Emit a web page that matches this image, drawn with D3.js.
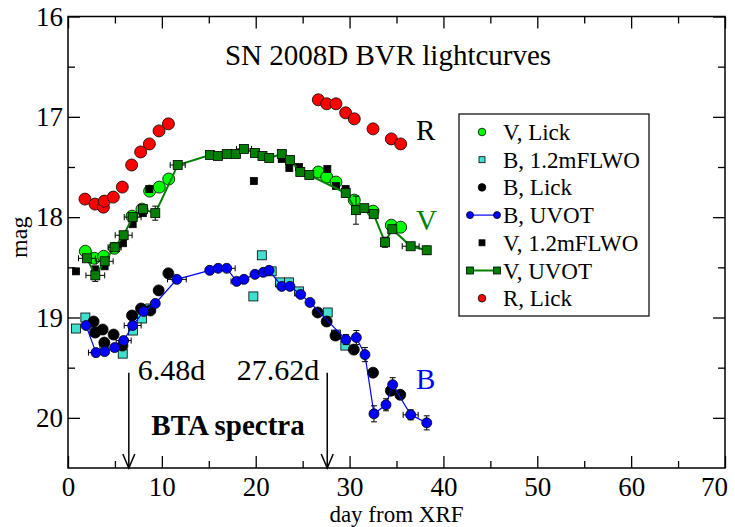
<!DOCTYPE html>
<html>
<head>
<meta charset="utf-8">
<script src="https://cdn.jsdelivr.net/npm/d3@7"></script>
<style>
  body { margin: 0; background: #fff; }
  svg { font-family: "Liberation Serif", "Times New Roman", serif; }
</style>
</head>
<body>
<script>
// values: day from XRF / magnitude
var vLickDay = [1.85, 2.81, 3.80, 4.94, 6.82, 7.88, 8.70, 9.73, 10.73, 26.67, 27.56, 28.55, 30.50, 32.50, 34.45, 35.44];
var vLickMag = [18.34, 18.41, 18.39, 18.31, 17.99, 17.92, 17.74, 17.70, 17.62, 17.55, 17.60, 17.65, 17.83, 17.94, 18.08, 18.10];

var bFlwoDay = [0.85, 1.85, 2.81, 3.87, 5.83, 6.93, 7.88, 8.77, 19.75, 20.65, 21.70, 22.59, 23.55, 24.61, 27.67, 28.55, 29.55];
var bFlwoMag = [19.11, 19.00, 19.14, 19.28, 19.36, 19.13, 19.01, 18.91, 18.79, 18.38, 18.54, 18.65, 18.65, 18.74, 18.95, 19.17, 19.28];

var bLickDay = [2.73, 2.90, 3.69, 3.87, 4.86, 5.80, 6.82, 7.78, 8.77, 9.66, 10.69, 26.60, 27.56, 28.50, 30.45, 32.50, 34.40, 35.40];
var bLickMag = [19.04, 19.15, 19.12, 19.25, 19.17, 19.28, 18.98, 18.91, 18.93, 18.73, 18.56, 18.95, 19.04, 19.18, 19.32, 19.55, 19.73, 19.77];

var bUvotDay = [1.92, 2.98, 3.91, 4.97, 5.93, 6.89, 8.06, 9.30, 11.60, 15.10, 16.00, 16.91, 17.97, 18.75, 19.92, 20.81, 21.42, 22.77, 23.65, 24.79, 25.78, 29.60, 30.72, 31.64, 32.60, 33.88, 34.59, 36.51, 38.22];
var bUvotMag = [19.08, 19.35, 19.34, 19.30, 19.23, 19.08, 18.94, 18.86, 18.62, 18.53, 18.51, 18.51, 18.64, 18.62, 18.57, 18.55, 18.53, 18.69, 18.69, 18.77, 18.85, 19.22, 19.20, 19.37, 19.96, 19.87, 19.67, 19.97, 20.05];
var bUvotDayErr = [0, 0.8, 0, 0, 0.8, 0.9, 0, 0, 1.0, 0, 0, 0.9, 0.6, 0, 0, 0, 0, 0, 0, 0, 0, 0, 0, 0, 0, 0, 0, 0.8, 0];
var bUvotMagErr = [0.02, 0.04, 0.03, 0.03, 0.04, 0.04, 0.03, 0.03, 0.03, 0.02, 0.02, 0.02, 0.03, 0.03, 0.02, 0.02, 0.02, 0.02, 0.02, 0.02, 0.03, 0.05, 0.07, 0.07, 0.08, 0.06, 0.07, 0.05, 0.07];

var vFlwoDay = [0.85, 2.90, 3.90, 5.86, 6.89, 7.99, 8.66, 19.80, 22.77, 23.58, 24.61, 27.63, 28.55, 29.58];
var vFlwoMag = [18.54, 18.52, 18.49, 18.26, 18.07, 17.96, 17.72, 17.64, 17.42, 17.51, 17.50, 17.52, 17.69, 17.72];

var vUvotDay = [2.02, 2.91, 3.91, 4.97, 5.93, 6.89, 7.99, 9.30, 11.69, 15.13, 15.98, 16.91, 17.90, 18.75, 19.92, 20.72, 21.44, 22.78, 23.65, 24.75, 25.71, 29.59, 30.68, 31.57, 32.57, 33.77, 34.55, 36.51, 38.22];
var vUvotMag = [18.41, 18.58, 18.44, 18.30, 18.18, 18.00, 17.92, 17.96, 17.48, 17.38, 17.39, 17.37, 17.37, 17.32, 17.36, 17.39, 17.41, 17.37, 17.43, 17.55, 17.58, 17.76, 17.93, 17.91, 17.97, 18.25, 18.12, 18.29, 18.33];
var vUvotDayErr = [0.9, 1.0, 0.9, 0.7, 0.9, 0.9, 0, 0, 0.8, 0, 0, 0, 0, 0.8, 0, 0, 0, 0, 0, 0, 0, 0, 0, 0, 0, 0, 0, 0.9, 0];
var vUvotMagErr = [0.03, 0.06, 0.03, 0.03, 0.03, 0.03, 0.03, 0.07, 0.03, 0.02, 0.02, 0.02, 0.02, 0.02, 0.02, 0.02, 0.02, 0.02, 0.02, 0.02, 0.02, 0.03, 0.14, 0.03, 0.03, 0.05, 0.03, 0.03, 0.04];

var rLickDay = [1.81, 2.88, 3.77, 3.87, 4.83, 5.79, 6.78, 7.74, 8.67, 9.70, 10.70, 26.67, 27.56, 28.55, 29.58, 30.50, 32.50, 34.45, 35.44];
var rLickMag = [17.82, 17.87, 17.90, 17.84, 17.80, 17.70, 17.48, 17.35, 17.27, 17.14, 17.07, 16.83, 16.87, 16.87, 16.96, 17.02, 17.12, 17.22, 17.27];

// spectra epochs (days)
var spectraDays = [6.48, 27.62];
var spectraLabels = ["6.48d", "27.62d"];

var xTicks = [0, 10, 20, 30, 40, 50, 60, 70];
var yTicks = [16, 17, 18, 19, 20];

function pts(days, mags, dErr, mErr) {
  return days.map(function(d, i) {
    return { day: d, mag: mags[i], de: dErr ? dErr[i] : 0, me: mErr ? mErr[i] : 0 };
  });
}

// series in legend (and drawing) order
var series = [
  { name: "V, Lick",     data: pts(vLickDay, vLickMag), shape: "circle", r: 6, fill: "#00ff00" },
  { name: "B, 1.2mFLWO", data: pts(bFlwoDay, bFlwoMag), shape: "square", r: 4.5, fill: "#40e0d0" },
  { name: "B, Lick",     data: pts(bLickDay, bLickMag), shape: "circle", r: 5.5, fill: "#000" },
  { name: "B, UVOT",     data: pts(bUvotDay, bUvotMag, bUvotDayErr, bUvotMagErr), shape: "circle", r: 5, fill: "#0000ff", line: "#0000ff", lw: 1.2 },
  { name: "V, 1.2mFLWO", data: pts(vFlwoDay, vFlwoMag), shape: "square", r: 3.5, fill: "#000" },
  { name: "V, UVOT",     data: pts(vUvotDay, vUvotMag, vUvotDayErr, vUvotMagErr), shape: "square", r: 4.5, fill: "#008000", line: "#008000", lw: 2 },
  { name: "R, Lick",     data: pts(rLickDay, rLickMag), shape: "circle", r: 6, fill: "#ff0000" }
];

var w = 735, h = 527;
var x = d3.scaleLinear().domain([0, 70]).range([68, 725]);
var y = d3.scaleLinear().domain([16, 20.5]).range([16.5, 468]);

var svg = d3.select("body").append("svg")
  .attr("width", w)
  .attr("height", h);

// frame
svg.append("rect")
  .attr("x", x(0)).attr("y", y(16))
  .attr("width", x(70) - x(0)).attr("height", y(20.5) - y(16))
  .attr("fill", "none").attr("stroke", "#000").attr("stroke-width", 1.5);

// ticks, inward on all sides
function styleAxis(g, size) {
  g.select(".domain").remove();
  g.selectAll(".tick line").attr("stroke", "#000").attr("stroke-width", 1.3);
  g.selectAll("text").attr("font-size", size).attr("fill", "#000")
    .attr("font-family", "Liberation Serif, Times New Roman, serif");
}
var xMinor = d3.range(5, 70, 10), yMinor = [16.5, 17.5, 18.5, 19.5];

var xAxisG = svg.append("g").attr("transform", "translate(0," + y(20.5) + ")")
  .call(d3.axisBottom(x).tickValues(xTicks).tickSize(-12).tickPadding(9).tickFormat(d3.format("d")))
  .call(styleAxis, 27);
// last label sits inside the window edge, as in the original
xAxisG.selectAll(".tick text").filter(function(d) { return d === 70; }).attr("dx", -11);

svg.append("g").attr("transform", "translate(0," + y(20.5) + ")")
  .call(d3.axisBottom(x).tickValues(xMinor).tickSize(-7).tickFormat(""))
  .call(styleAxis, 0);
svg.append("g").attr("transform", "translate(0," + y(16) + ")")
  .call(d3.axisTop(x).tickValues(xTicks).tickSize(-12).tickFormat(""))
  .call(styleAxis, 0);
svg.append("g").attr("transform", "translate(0," + y(16) + ")")
  .call(d3.axisTop(x).tickValues(xMinor).tickSize(-7).tickFormat(""))
  .call(styleAxis, 0);

svg.append("g").attr("transform", "translate(" + x(0) + ",0)")
  .call(d3.axisLeft(y).tickValues(yTicks).tickSize(-12).tickPadding(5).tickFormat(d3.format("d")))
  .call(styleAxis, 27);
svg.append("g").attr("transform", "translate(" + x(0) + ",0)")
  .call(d3.axisLeft(y).tickValues(yMinor).tickSize(-7).tickFormat(""))
  .call(styleAxis, 0);
svg.append("g").attr("transform", "translate(" + x(70) + ",0)")
  .call(d3.axisRight(y).tickValues(yTicks).tickSize(-12).tickFormat(""))
  .call(styleAxis, 0);
svg.append("g").attr("transform", "translate(" + x(70) + ",0)")
  .call(d3.axisRight(y).tickValues(yMinor).tickSize(-7).tickFormat(""))
  .call(styleAxis, 0);

// axis titles
svg.append("text")
  .attr("x", (x(0) + x(70)) / 2).attr("y", 522)
  .attr("text-anchor", "middle").attr("font-size", 23)
  .text("day from XRF");
svg.append("text")
  .attr("transform", "translate(27," + y(18.2) + ")rotate(-90)")
  .attr("text-anchor", "middle").attr("font-size", 24)
  .text("mag");

// plot title
svg.append("text")
  .attr("x", 388).attr("y", 65)
  .attr("text-anchor", "middle").attr("font-size", 29)
  .text("SN 2008D BVR lightcurves");

// series
var plot = svg.append("g");
var line = d3.line().x(function(d) { return x(d.day); }).y(function(d) { return y(d.mag); });

function marker(sel, s) {
  if (s.shape === "circle") {
    sel.append("circle").attr("r", s.r);
  } else {
    sel.append("rect").attr("x", -s.r).attr("y", -s.r).attr("width", 2 * s.r).attr("height", 2 * s.r);
  }
  sel.selectAll("circle,rect").attr("fill", s.fill).attr("stroke", "#000").attr("stroke-width", 0.8);
}

series.forEach(function(s) {
  var g = plot.append("g");
  if (s.line) {
    g.append("path").datum(s.data).attr("d", line)
      .attr("fill", "none").attr("stroke", s.line).attr("stroke-width", s.lw);
  }
  // error bars
  var eb = g.append("g").attr("stroke", "#000").attr("stroke-width", 1);
  s.data.forEach(function(d) {
    var cx = x(d.day), cy = y(d.mag);
    if (d.me > 0) {
      eb.append("line").attr("x1", cx).attr("x2", cx).attr("y1", y(d.mag - d.me)).attr("y2", y(d.mag + d.me));
      [d.mag - d.me, d.mag + d.me].forEach(function(m) {
        eb.append("line").attr("x1", cx - 3).attr("x2", cx + 3).attr("y1", y(m)).attr("y2", y(m));
      });
    }
    if (d.de > 0) {
      eb.append("line").attr("x1", x(d.day - d.de)).attr("x2", x(d.day + d.de)).attr("y1", cy).attr("y2", cy);
      [d.day - d.de, d.day + d.de].forEach(function(t) {
        eb.append("line").attr("x1", x(t)).attr("x2", x(t)).attr("y1", cy - 3).attr("y2", cy + 3);
      });
    }
  });
  g.selectAll("g.pt").data(s.data).enter().append("g")
    .attr("class", "pt")
    .attr("transform", function(d) { return "translate(" + x(d.day) + "," + y(d.mag) + ")"; })
    .each(function() { marker(d3.select(this), s); });
});

// band labels
var bandLabels = [
  { t: "R", mag: 17.23, c: "#000" },
  { t: "V", mag: 18.13, c: "#008000" },
  { t: "B", mag: 19.71, c: "#0000ff" }
];
svg.selectAll("text.band").data(bandLabels).enter().append("text")
  .attr("class", "band")
  .attr("x", 416).attr("y", function(d) { return y(d.mag); })
  .attr("font-size", 29).attr("fill", function(d) { return d.c; })
  .text(function(d) { return d.t; });

// spectra arrows
var arrows = svg.append("g").attr("stroke", "#000").attr("stroke-width", 1.5).attr("fill", "none");
spectraDays.forEach(function(d) {
  var ax = x(d);
  arrows.append("line").attr("x1", ax).attr("x2", ax).attr("y1", y(19.55)).attr("y2", y(20.5));
  arrows.append("path").attr("d", "M" + (ax - 6) + "," + (y(20.5) - 14) + "L" + ax + "," + y(20.5) + "L" + (ax + 6) + "," + (y(20.5) - 14));
});
svg.append("text").attr("x", x(spectraDays[0]) + 9).attr("y", 380).attr("font-size", 30).text(spectraLabels[0]);
svg.append("text").attr("x", x(spectraDays[1]) - 8).attr("y", 380).attr("text-anchor", "end").attr("font-size", 30).text(spectraLabels[1]);
svg.append("text").attr("x", 228).attr("y", 435).attr("text-anchor", "middle")
  .attr("font-size", 29).attr("font-weight", "bold").text("BTA spectra");

// legend
var lg = svg.append("g");
lg.append("rect").attr("x", 459).attr("y", 114).attr("width", 190).attr("height", 202)
  .attr("fill", "#fff").attr("stroke", "#000").attr("stroke-width", 1.2);
series.forEach(function(s, i) {
  var ly = 132 + i * 27.7;
  var item = lg.append("g");
  if (s.line) {
    item.append("line").attr("x1", 470).attr("x2", 497).attr("y1", ly).attr("y2", ly)
      .attr("stroke", s.line).attr("stroke-width", s.lw);
    [470, 497].forEach(function(px) {
      var m = item.append("g").attr("transform", "translate(" + px + "," + ly + ")");
      marker(m, { shape: s.shape, r: 3.5, fill: s.fill });
    });
  } else {
    var m = item.append("g").attr("transform", "translate(482," + ly + ")");
    marker(m, { shape: s.shape, r: s.shape === "circle" ? 3.8 : 3, fill: s.fill });
  }
  item.append("text").attr("x", 503).attr("y", ly + 8).attr("font-size", 23).text(s.name);
});
</script>
</body>
</html>
